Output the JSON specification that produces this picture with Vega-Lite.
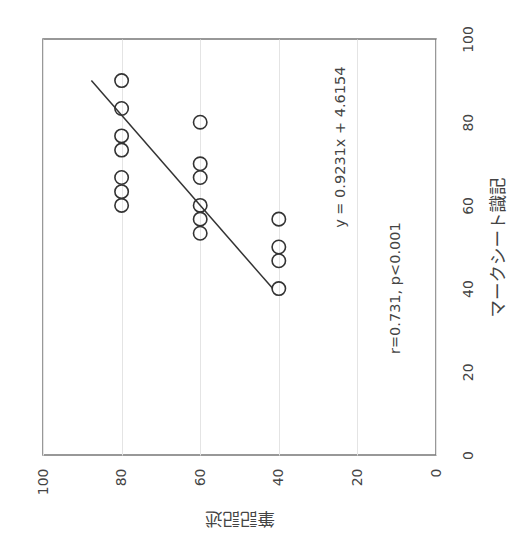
{
  "$schema": "https://vega.github.io/schema/vega-lite/v6.json",
  "width": 393,
  "height": 416,
  "autosize": {"type": "none"},
  "padding": {"left": 43, "top": 39, "right": 93, "bottom": 98},
  "background": "white",
  "config": {
    "view": {"stroke": "#777", "strokeWidth": 1.5},
    "font": "DejaVu Sans"
  },
  "datasets": {
    "pts": [
      {"mark": 90, "written": 80},
      {"mark": 83.3, "written": 80},
      {"mark": 76.7, "written": 80},
      {"mark": 73.3, "written": 80},
      {"mark": 66.7, "written": 80},
      {"mark": 63.3, "written": 80},
      {"mark": 60, "written": 80},
      {"mark": 80, "written": 60},
      {"mark": 70, "written": 60},
      {"mark": 66.7, "written": 60},
      {"mark": 60, "written": 60},
      {"mark": 56.7, "written": 60},
      {"mark": 53.3, "written": 60},
      {"mark": 56.7, "written": 40},
      {"mark": 50, "written": 40},
      {"mark": 46.7, "written": 40},
      {"mark": 40, "written": 40}
    ],
    "fit": [
      {"mark": 40, "written": 41.54},
      {"mark": 90, "written": 87.69}
    ],
    "notes": [
      {"mark": 74, "written": 24.2, "label": "y = 0.9231x + 4.6154"},
      {"mark": 40.1, "written": 10.2, "label": "r=0.731, p<0.001"}
    ]
  },
  "encoding": {
    "x": {
      "field": "written", "type": "quantitative",
      "scale": {"domain": [0, 100], "reverse": true, "nice": false},
      "axis": {
        "orient": "bottom", "values": [0, 20, 40, 60, 80, 100],
        "labelAngle": -90, "labelAlign": "right", "labelBaseline": "middle",
        "labelPadding": 13, "labelFontSize": 14, "labelColor": "#444", "labelFont": "DejaVu Sans",
        "ticks": false, "domain": false,
        "grid": true, "gridColor": "#e4e4e4", "gridWidth": 1,
        "title": "筆記記述", "titleAngle": 180, "titleBaseline": "bottom", "titleFont": "Noto Sans CJK JP",
        "titleFontSize": 17.5, "titleFontWeight": "normal", "titleColor": "#444",
        "titlePadding": 14
      }
    },
    "y": {
      "field": "mark", "type": "quantitative",
      "scale": {"domain": [0, 100], "nice": false},
      "axis": {
        "orient": "right", "values": [0, 20, 40, 60, 80, 100],
        "labelAngle": -90, "labelAlign": "center", "labelBaseline": "top",
        "labelPadding": 25, "labelFontSize": 14, "labelColor": "#444", "labelFont": "DejaVu Sans",
        "ticks": false, "domain": false, "grid": false,
        "title": "マークシート識記", "titleAngle": -90, "titleBaseline": "top", "titleFont": "Noto Sans CJK JP",
        "titleFontSize": 17.5, "titleFontWeight": "normal", "titleColor": "#444",
        "titlePadding": 14
      }
    }
  },
  "layer": [
    {
      "data": {"name": "pts"},
      "mark": {"type": "point", "shape": "circle", "filled": false, "size": 180, "stroke": "#333", "strokeWidth": 1.6, "opacity": 1}
    },
    {
      "data": {"name": "fit"},
      "mark": {"type": "line", "color": "#333", "strokeWidth": 1.5}
    },
    {
      "data": {"name": "notes"},
      "mark": {"type": "text", "angle": -90, "align": "center", "baseline": "middle", "fontSize": 14.5, "color": "#444", "font": "DejaVu Sans"},
      "encoding": {"text": {"field": "label"}}
    }
  ]
}
